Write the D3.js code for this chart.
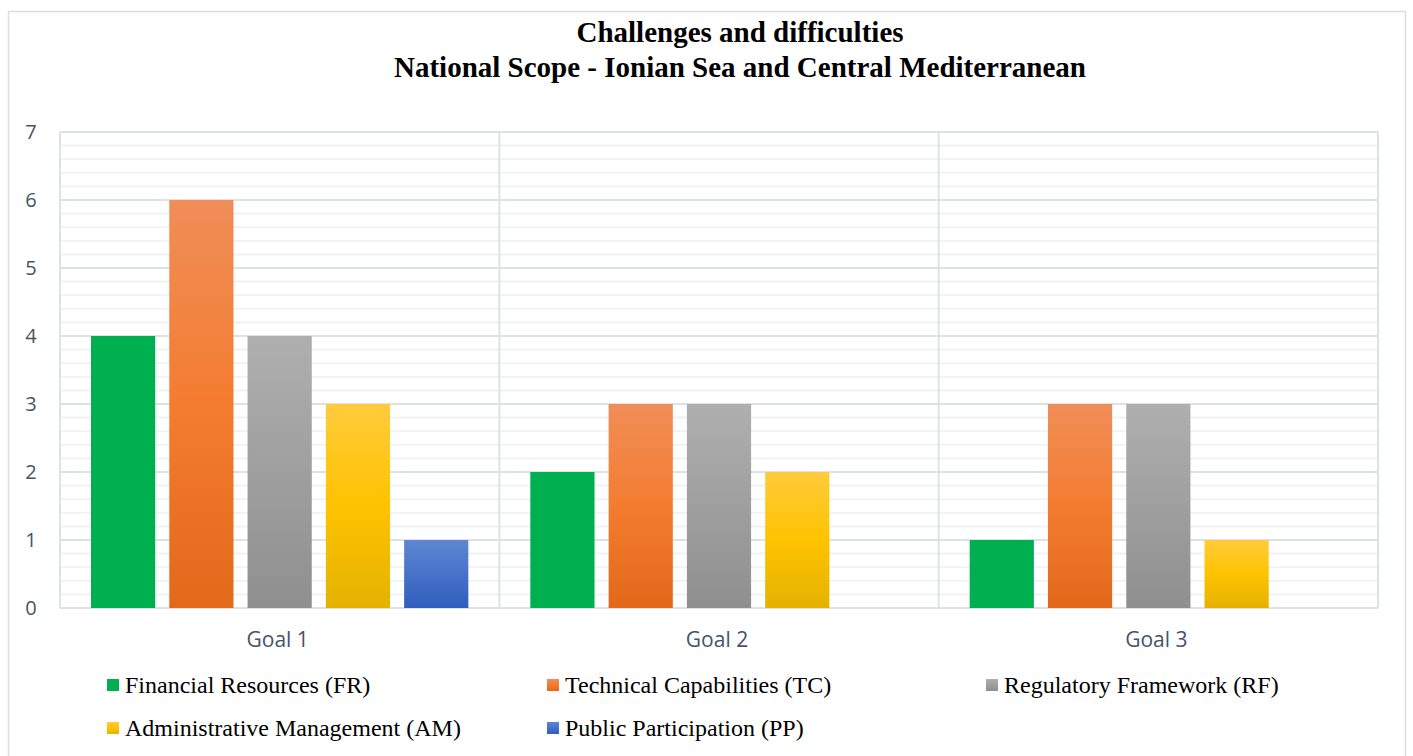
<!DOCTYPE html>
<html><head><meta charset="utf-8">
<script src="https://cdn.jsdelivr.net/npm/d3@7"></script>
<style>body{margin:0;background:#fff}svg{display:block}</style>
</head><body>
<svg id="c" width="1413" height="756"></svg>
<script>
const categories = ["Goal 1", "Goal 2", "Goal 3"];
const seriesNames = ["Financial Resources (FR)", "Technical Capabilities (TC)", "Regulatory Framework (RF)", "Administrative Management (AM)", "Public Participation (PP)"];
const FR = [4, 2, 1];
const TC = [6, 3, 3];
const RF = [4, 3, 3];
const AM = [3, 2, 1];
const PP = [1, 0, 0];
const yTicks = [0, 1, 2, 3, 4, 5, 6, 7];
const titleLines = ["Challenges and difficulties", "National Scope - Ionian Sea and Central Mediterranean"];

const seriesValues = [FR, TC, RF, AM, PP];
const gradients = [
  [["0%", "#00B050"], ["100%", "#00B050"]],
  [["0%", "#F08E58"], ["50%", "#F47C30"], ["100%", "#E2691A"]],
  [["0%", "#AFAFAF"], ["100%", "#8F8F8F"]],
  [["0%", "#FFCB3C"], ["50%", "#FFC300"], ["100%", "#E3B200"]],
  [["0%", "#5E86D2"], ["100%", "#2F5EBD"]]
];

const svg = d3.select("#c");
const m = {left: 60, right: 1378, top: 132, bottom: 608};

// outer frame
svg.append("rect").attr("x", 8.5).attr("y", 11.5).attr("width", 1397).attr("height", 760)
  .attr("fill", "#fff").attr("stroke", "#D9DEE6").attr("stroke-width", 1.5);

const defs = svg.append("defs");
gradients.forEach((g, i) => {
  const lg = defs.append("linearGradient").attr("id", "g" + i).attr("x1", 0).attr("y1", 0).attr("x2", 0).attr("y2", 1);
  g.forEach(s => lg.append("stop").attr("offset", s[0]).attr("stop-color", s[1]));
});

const x0 = d3.scaleBand().domain(categories).range([m.left, m.right]).padding(0);
const x1 = d3.scaleBand().domain(d3.range(seriesNames.length)).range([31, x0.bandwidth() - 31]).paddingInner(0.18);
const y = d3.scaleLinear().domain([0, 7]).range([m.bottom, m.top]);

// minor grid
const minor = d3.range(0, 7.001, 0.2).filter(v => Math.abs(v - Math.round(v)) > 1e-6);
svg.append("g").selectAll("line").data(minor).join("line")
  .attr("x1", m.left).attr("x2", m.right).attr("y1", d => y(d)).attr("y2", d => y(d))
  .attr("stroke", "#F1F2F4").attr("stroke-width", 2);
// major grid
svg.append("g").selectAll("line").data(yTicks).join("line")
  .attr("x1", m.left).attr("x2", m.right).attr("y1", d => y(d)).attr("y2", d => y(d))
  .attr("stroke", "#DDE2E8").attr("stroke-width", 2);
// vertical lines
svg.append("g").selectAll("line").data(categories.concat(["end"])).join("line")
  .attr("x1", (d, i) => m.left + i * x0.bandwidth()).attr("x2", (d, i) => m.left + i * x0.bandwidth())
  .attr("y1", m.top).attr("y2", m.bottom)
  .attr("stroke", "#DDE2E8").attr("stroke-width", 2);

// bars
const groups = svg.append("g").selectAll("g").data(categories).join("g")
  .attr("transform", d => `translate(${x0(d)},0)`);
groups.selectAll("rect").data((d, ci) => seriesValues.map((s, si) => ({si, v: s[ci]})).filter(e => e.v > 0))
  .join("rect")
  .attr("x", e => x1(e.si)).attr("width", x1.bandwidth())
  .attr("y", e => y(e.v)).attr("height", e => y(0) - y(e.v))
  .attr("fill", e => `url(#g${e.si})`);

// y axis labels
const yAxis = d3.axisLeft(y).tickValues(yTicks).tickSize(0).tickPadding(0).tickFormat(d3.format("d"));
const ya = svg.append("g").attr("transform", `translate(31,0)`).call(yAxis);
ya.select(".domain").remove();
ya.selectAll("text").attr("font-family", "'Open Sans', sans-serif").attr("font-size", 20)
  .attr("fill", "#44546A").attr("text-anchor", "middle").attr("x", 0);

// x axis labels
const xAxis = d3.axisBottom(x0).tickSize(0).tickPadding(0);
const xa = svg.append("g").attr("transform", `translate(-2,0)`).call(xAxis);
xa.select(".domain").remove();
xa.selectAll("text").attr("font-family", "'Open Sans', sans-serif").attr("font-size", 21)
  .attr("fill", "#44546A").attr("y", 647).attr("dy", 0);

// title
svg.append("g").selectAll("text").data(titleLines).join("text")
  .attr("x", 740).attr("y", (d, i) => 42 + i * 35)
  .attr("text-anchor", "middle").attr("font-family", "'Liberation Serif', serif")
  .attr("font-weight", "bold").attr("font-size", 29).attr("fill", "#000").text(d => d);

// legend
const legCols = [107, 547, 986], legRows = [685, 728];
const leg = svg.append("g").selectAll("g").data(seriesNames).join("g")
  .attr("transform", (d, i) => `translate(${legCols[i % 3]},${legRows[Math.floor(i / 3)]})`);
leg.append("rect").attr("x", 0).attr("y", -6).attr("width", 12).attr("height", 12)
  .attr("fill", (d, i) => `url(#g${i})`);
leg.append("text").attr("x", 18).attr("y", 8).attr("font-family", "'Liberation Serif', serif")
  .attr("font-size", 24).attr("fill", "#000").text(d => d);
</script>
</body></html>
